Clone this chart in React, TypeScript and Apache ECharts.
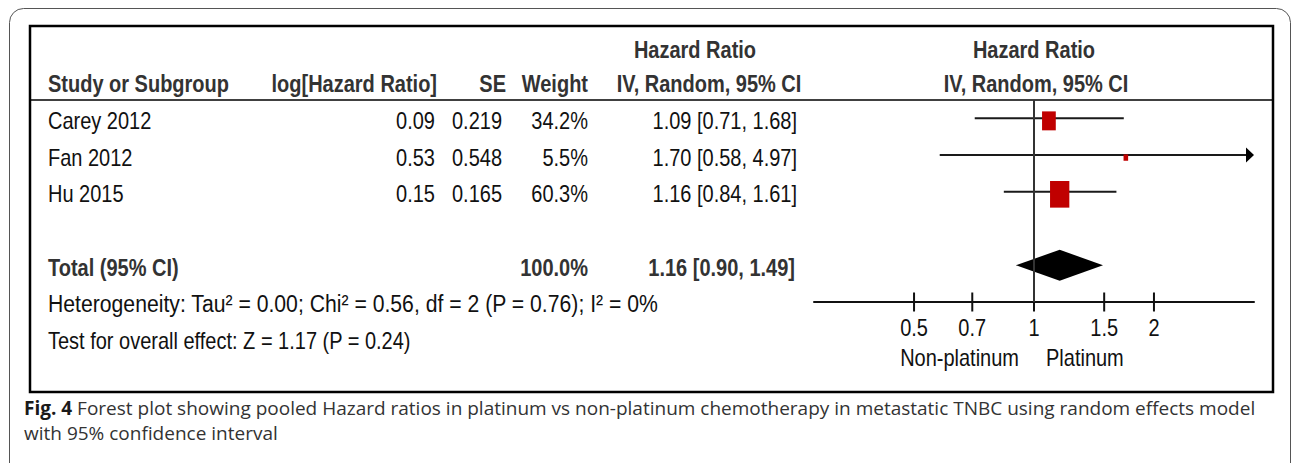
import React, { useEffect, useRef } from 'react';
import * as echarts from 'echarts';

// ---------- data ----------
const STUDIES = ['Carey 2012', 'Fan 2012', 'Hu 2015'];
const LOG_HR = ['0.09', '0.53', '0.15'];
const SE = ['0.219', '0.548', '0.165'];
const WEIGHTS = [34.2, 5.5, 60.3];
const HR = [1.09, 1.7, 1.16];
const CI_LOW = [0.71, 0.58, 0.84];
const CI_HIGH = [1.68, 4.97, 1.61];
const TOTAL_LABEL = 'Total (95% CI)';
const TOTAL_WEIGHT = 100.0;
const TOTAL_HR = 1.16;
const TOTAL_LOW = 0.9;
const TOTAL_HIGH = 1.49;
const HETEROGENEITY = 'Heterogeneity: Tau² = 0.00; Chi² = 0.56, df = 2 (P = 0.76); I² = 0%';
const OVERALL = 'Test for overall effect: Z = 1.17 (P = 0.24)';
const HEADERS = ['Study or Subgroup', 'log[Hazard Ratio]', 'SE', 'Weight', 'Hazard Ratio', 'IV, Random, 95% CI'];
const TICKS = [0.5, 0.7, 1, 1.5, 2];
const TICK_LABELS = ['0.5', '0.7', '1', '1.5', '2'];
const AXIS_RANGE = [0.2805, 3.565];
const FAVOURS = ['Non-platinum', 'Platinum'];
const CAPTION_BOLD = 'Fig. 4';
const CAPTION_1 = 'Forest plot showing pooled Hazard ratios in platinum vs non-platinum chemotherapy in metastatic TNBC using random effects model';
const CAPTION_2 = 'with 95% confidence interval';

// ---------- layout ----------
const STUDY_ROWS = [0, 1, 2];
const TOTAL_ROW = 4;
const HET_ROW = 5;
const TEST_ROW = 6;
const GRID_TOP = 100;
const GRID_H = 202;
const Y_MIN = -0.5;
const Y_MAX = 5;
const ROW_H = GRID_H / (Y_MAX - Y_MIN);
const rowY = (i: number) => GRID_TOP + (i - Y_MIN) * ROW_H + 2.5;
const HEADER1_Y = 49.5;
const PLOT_LEFT = 814;
const PLOT_W = 440;
const FONT = '"Liberation Sans", Arial, Helvetica, sans-serif';
const CAP_FONT = '"Open Sans", "Noto Sans", sans-serif';
const SY = 1.17;

const fmt2 = (v: number) => v.toFixed(2);
const ciText = (h: number, l: number, u: number) => `${fmt2(h)} [${fmt2(l)}, ${fmt2(u)}]`;

function txt(text: string, x: number, y: number, align: string, bold = false, sx = 1) {
  return {
    type: 'text',
    x,
    y,
    scaleY: SY,
    scaleX: sx,
    silent: true,
    style: {
      text,
      x: 0,
      y: 0,
      textAlign: align,
      textVerticalAlign: 'middle',
      align,
      verticalAlign: 'middle',
      font: `${bold ? 'bold ' : ''}20px ${FONT}`,
      fill: bold ? '#333333' : '#111111',
    },
  };
}

export default function App() {
  const ref = useRef<HTMLDivElement>(null);

  useEffect(() => {
    if (!ref.current) return;
    const chart = echarts.init(ref.current, undefined, { renderer: 'svg' });
    const xMax = Math.log(AXIS_RANGE[1]);

    const graphics: any[] = [
      {
        type: 'rect',
        silent: true,
        shape: { x: 9.5, y: 8.5, width: 1281, height: 520, r: 14 },
        style: { fill: 'none', stroke: '#555555', lineWidth: 1 },
      },
      {
        type: 'rect',
        silent: true,
        shape: { x: 30, y: 26, width: 1243, height: 366 },
        style: { fill: 'none', stroke: '#000000', lineWidth: 2.5 },
      },
      {
        type: 'line',
        silent: true,
        shape: { x1: 30, y1: 100, x2: 1273, y2: 100 },
        style: { stroke: '#000000', lineWidth: 1.5 },
      },
      // headers
      txt(HEADERS[0], 48, rowY(-1), 'left', true),
      txt(HEADERS[1], 437, rowY(-1), 'right', true),
      txt(HEADERS[2], 506, rowY(-1), 'right', true),
      txt(HEADERS[3], 588, rowY(-1), 'right', true),
      txt(HEADERS[4], 695, HEADER1_Y, 'center', true),
      txt(HEADERS[5], 709, rowY(-1), 'center', true),
      txt(HEADERS[4], 1034, HEADER1_Y, 'center', true),
      txt(HEADERS[5], 1036, rowY(-1), 'center', true),
    ];

    STUDIES.forEach((s, i) => {
      const y = rowY(STUDY_ROWS[i]);
      graphics.push(txt(s, 48, y, 'left'));
      graphics.push(txt(LOG_HR[i], 435, y, 'right'));
      graphics.push(txt(SE[i], 502, y, 'right'));
      graphics.push(txt(`${WEIGHTS[i].toFixed(1)}%`, 588, y, 'right'));
      graphics.push(txt(ciText(HR[i], CI_LOW[i], CI_HIGH[i]), 797, y, 'right'));
    });

    const ty = rowY(TOTAL_ROW);
    graphics.push(txt(TOTAL_LABEL, 48, ty, 'left', true));
    graphics.push(txt(`${TOTAL_WEIGHT.toFixed(1)}%`, 588, ty, 'right', true));
    graphics.push(txt(ciText(TOTAL_HR, TOTAL_LOW, TOTAL_HIGH), 795, ty, 'right', true));
    graphics.push(txt(HETEROGENEITY, 48, rowY(HET_ROW), 'left', false, 1.06));
    graphics.push(txt(OVERALL, 48, rowY(TEST_ROW), 'left'));
    graphics.push(txt(FAVOURS[0], 1019, 358, 'right'));
    graphics.push(txt(FAVOURS[1], 1046, 358, 'left'));

    graphics.push({
      type: 'text',
      x: 24,
      y: 408,
      silent: true,
      style: {
        text: `{b|${CAPTION_BOLD}} ${CAPTION_1}`,
        textVerticalAlign: 'middle',
        verticalAlign: 'middle',
        font: `19px ${CAP_FONT}`,
        fill: '#333333',
        rich: {
          b: { font: `bold 19px ${CAP_FONT}`, fill: '#1a1a1a' },
        },
      },
    });
    graphics.push({
      type: 'text',
      x: 24,
      y: 433,
      silent: true,
      style: {
        text: CAPTION_2,
        textVerticalAlign: 'middle',
        verticalAlign: 'middle',
        font: `19px ${CAP_FONT}`,
        fill: '#333333',
      },
    });

    const option: any = {
      animation: false,
      backgroundColor: '#ffffff',
      grid: { left: PLOT_LEFT, width: PLOT_W, top: GRID_TOP, height: GRID_H, containLabel: false },
      xAxis: {
        type: 'value',
        position: 'bottom',
        min: Math.log(AXIS_RANGE[0]),
        max: xMax,
        axisLine: { show: true, onZero: false, lineStyle: { color: '#111111', width: 2 } },
        axisTick: { show: false },
        axisLabel: { show: false },
        splitLine: { show: false },
      },
      yAxis: {
        type: 'value',
        inverse: true,
        min: Y_MIN,
        max: Y_MAX,
        show: false,
        axisLine: { onZero: false },
        splitLine: { show: false },
      },
      graphic: graphics,
      series: [
        {
          type: 'custom',
          name: 'ticks',
          silent: true,
          clip: false,
          data: TICKS.map((t) => [Math.log(t), Y_MAX]),
          renderItem: (params: any, api: any) => {
            const p = api.coord([api.value(0), api.value(1)]);
            return {
              type: 'group',
              children: [
                {
                  type: 'line',
                  shape: { x1: p[0], y1: p[1] - 9.5, x2: p[0], y2: p[1] + 9.5 },
                  style: { stroke: '#111111', lineWidth: 2 },
                },
                {
                  type: 'text',
                  x: p[0],
                  y: p[1] + 26,
                  scaleY: SY,
                  style: {
                    text: TICK_LABELS[params.dataIndex],
                    textAlign: 'center',
                    textVerticalAlign: 'middle',
                    align: 'center',
                    verticalAlign: 'middle',
                    font: `20px ${FONT}`,
                    fill: '#111111',
                  },
                },
              ],
            };
          },
        },
        {
          type: 'custom',
          name: 'total',
          silent: true,
          clip: false,
          data: [[Math.log(TOTAL_HR), TOTAL_ROW, Math.log(TOTAL_LOW), Math.log(TOTAL_HIGH)]],
          renderItem: (params: any, api: any) => {
            const row = api.value(1);
            const c = api.coord([api.value(0), row]);
            const l = api.coord([api.value(2), row]);
            const r = api.coord([api.value(3), row]);
            const hh = 15.5;
            return {
              type: 'polygon',
              shape: { points: [[l[0], c[1]], [c[0], c[1] - hh], [r[0], c[1]], [c[0], c[1] + hh]] },
              style: { fill: '#000000' },
            };
          },
          markLine: {
            silent: true,
            symbol: ['none', 'none'],
            label: { show: false },
            lineStyle: { color: '#333333', width: 2, type: 'solid' },
            data: [{ xAxis: 0 }],
          },
        },
        {
          type: 'custom',
          name: 'studies',
          silent: true,
          clip: false,
          data: STUDIES.map((_, i) => [
            Math.log(HR[i]),
            STUDY_ROWS[i],
            Math.log(CI_LOW[i]),
            Math.log(CI_HIGH[i]),
            WEIGHTS[i],
          ]),
          renderItem: (params: any, api: any) => {
            const row = api.value(1);
            const hiRaw = api.value(3);
            const over = hiRaw > xMax;
            const c = api.coord([api.value(0), row]);
            const l = api.coord([api.value(2), row]);
            const r = api.coord([Math.min(hiRaw, xMax), row]);
            const w = 1.65 * Math.pow(api.value(4), 0.6);
            const h = w * 1.38;
            const children: any[] = [
              {
                type: 'line',
                shape: { x1: l[0], y1: l[1], x2: over ? r[0] - 6 : r[0], y2: r[1] },
                style: { stroke: '#1a1a1a', lineWidth: 2 },
              },
            ];
            if (over) {
              children.push({
                type: 'polygon',
                shape: { points: [[r[0] - 8, r[1] - 7.5], [r[0], r[1]], [r[0] - 8, r[1] + 7.5]] },
                style: { fill: '#000000' },
              });
            }
            children.push({
              type: 'rect',
              shape: { x: c[0] - w / 2, y: c[1] - h / 2 + 2.5, width: w, height: h },
              style: { fill: '#c00000' },
            });
            return { type: 'group', children };
          },
        },
      ],
    };

    chart.setOption(option);
    return () => chart.dispose();
  }, []);

  return (
    <div
      ref={ref}
      style={{ position: 'fixed', left: 0, top: 0, width: 1292, height: 463, background: '#ffffff' }}
    />
  );
}
